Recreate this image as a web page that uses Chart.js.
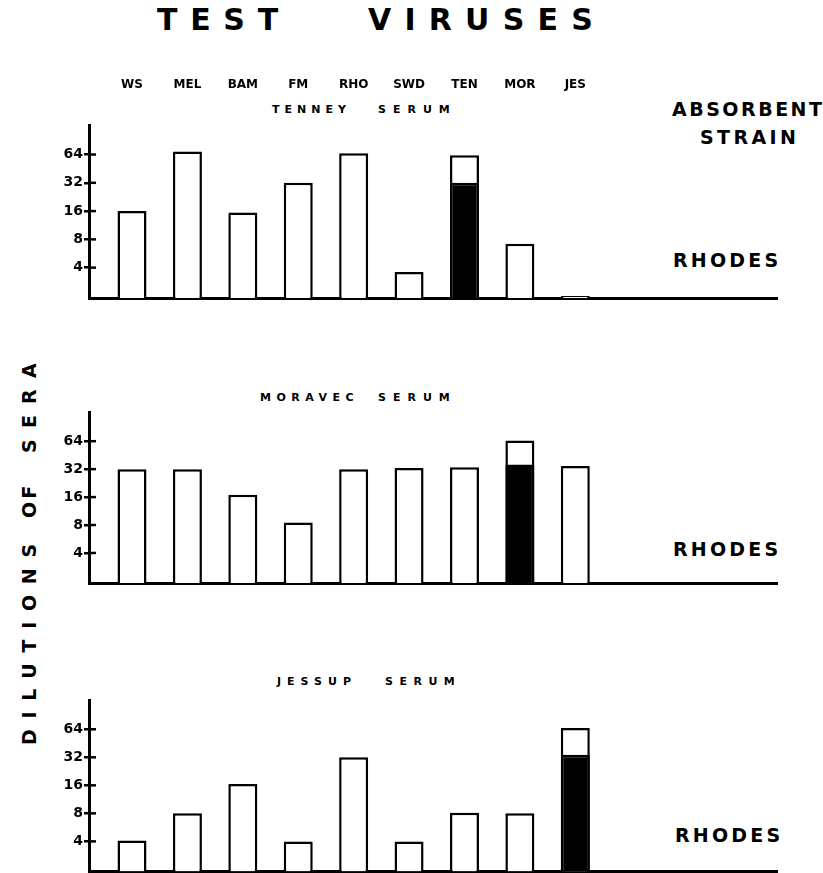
<!DOCTYPE html>
<html><head><meta charset="utf-8">
<script src="https://cdn.jsdelivr.net/npm/chart.js@4"></script>
<style>
html,body{margin:0;padding:0;background:#fff;}
#root{position:relative;width:823px;height:873px;overflow:hidden;background:#fff;font-family:'DejaVu Sans',sans-serif;font-weight:bold;color:#000;}
.t{position:absolute;white-space:pre;line-height:1;font-weight:bold;}
.panel{position:absolute;left:0;width:823px;}
.rot{transform:rotate(-90deg);transform-origin:0 0;}
</style></head><body><div id="root">
<div class="t" style="left:157px;top:4.5px;font-size:30px;letter-spacing:12.7px;">TEST</div>
<div class="t" style="left:368px;top:4.5px;font-size:30px;letter-spacing:13.2px;">VIRUSES</div>

<div class="t" style="left:672px;top:99.8px;font-size:19px;letter-spacing:2.5px;">ABSORBENT</div>
<div class="t" style="left:700px;top:127.8px;font-size:19px;letter-spacing:3.4px;">STRAIN</div>

<div class="t" style="left:272px;top:103.7px;font-size:11px;letter-spacing:5px;">TENNEY</div>
<div class="t" style="left:378px;top:103.7px;font-size:11px;letter-spacing:7px;">SERUM</div>
<div class="t" style="left:260px;top:392px;font-size:11px;letter-spacing:5.5px;">MORAVEC</div>
<div class="t" style="left:378px;top:392px;font-size:11px;letter-spacing:7px;">SERUM</div>
<div class="t" style="left:277px;top:676px;font-size:11px;letter-spacing:6px;">JESSUP</div>
<div class="t" style="left:385px;top:676px;font-size:11px;letter-spacing:6.5px;">SERUM</div>

<div class="t" style="left:673px;top:251px;font-size:19px;letter-spacing:3.2px;">RHODES</div>
<div class="t" style="left:673px;top:540px;font-size:19px;letter-spacing:3.2px;">RHODES</div>
<div class="t" style="left:675px;top:826px;font-size:19px;letter-spacing:3.2px;">RHODES</div>

<div class="t rot" style="left:20px;top:745px;font-size:19px;letter-spacing:10.7px;">DILUTIONS</div>
<div class="t rot" style="left:20px;top:518px;font-size:19px;letter-spacing:3px;">OF</div>
<div class="t rot" style="left:20px;top:453px;font-size:19px;letter-spacing:11.2px;">SERA</div>

<div class="panel" style="top:60px;height:241px;"><canvas id="c1"></canvas></div>
<div class="panel" style="top:404px;height:182px;"><canvas id="c2"></canvas></div>
<div class="panel" style="top:692px;height:181px;"><canvas id="c3"></canvas></div>
</div>
<script>
// Test viruses (categories)
const viruses = ['WS', 'MEL', 'BAM', 'FM', 'RHO', 'SWD', 'TEN', 'MOR', 'JES'];
// Y tick labels (serum dilutions)
const dilutionTicks = [4, 8, 16, 32, 64];

// Tenney serum (absorbed with Rhodes): full titre, and black (lower) part
const tenneyTiter = [16, 69, 15.5, 32, 66, 3.6, 63, 7.2, 2.0];
const tenneyBlack = [null, null, null, null, null, null, 32, null, null];

// Moravec serum
const moravecTiter = [32, 32, 17, 8.5, 32, 33, 33.5, 65, 34.5];
const moravecBlack = [null, null, null, null, null, null, null, 36, null];

// Jessup serum
const jessupTiter = [4.1, 8, 16.5, 4, 32, 4, 8.1, 8, 66];
const jessupBlack = [null, null, null, null, null, null, null, null, 34];

Chart.defaults.font.family = "'DejaVu Sans', sans-serif";
Chart.defaults.color = '#000';

const innerTicks = {
  id: 'innerTicks',
  afterDraw(chart) {
    const y = chart.scales.y, ctx = chart.ctx, left = chart.chartArea.left;
    ctx.save();
    ctx.strokeStyle = '#000';
    ctx.lineWidth = 2.5;
    for (const v of dilutionTicks) {
      const py = y.getPixelForValue(v);
      ctx.beginPath(); ctx.moveTo(left, py); ctx.lineTo(left + 7, py); ctx.stroke();
    }
    ctx.restore();
  }
};

function toPoints(arr) {
  const out = [];
  arr.forEach((v, i) => { if (v !== null) out.push({x: i, y: v}); });
  return out;
}

const X_MIN = -0.776, X_MAX = 11.64;

function makePanel(id, titers, black, withTop, padding) {
  const scales = {
    x: {
      type: 'linear', position: 'bottom', min: X_MIN, max: X_MAX, offset: false,
      grid: {display: false},
      ticks: {display: false},
      border: {display: true, color: '#000', width: 3},
      afterFit: (s) => { s.height = 0; s.paddingLeft = 0; s.paddingRight = 0; }
    },
    y: {
      type: 'logarithmic', position: 'left', min: 1.9, max: 132,
      afterBuildTicks: (s) => { s.ticks = dilutionTicks.map(v => ({value: v})); },
      ticks: {
        autoSkip: false, padding: 1,
        font: {size: 14, weight: 'bold'}, color: '#000',
        callback: (v) => String(v)
      },
      grid: {display: true, drawOnChartArea: false, drawTicks: true, tickLength: 5, color: '#000', lineWidth: 2.5},
      border: {display: true, color: '#000', width: 3},
      afterFit: (s) => { s.width = 89; s.paddingTop = 0; s.paddingBottom = 0; }
    }
  };
  if (withTop) {
    scales.xTop = {
      type: 'linear', position: 'top', min: X_MIN, max: X_MAX, offset: false,
      grid: {display: false},
      border: {display: false},
      afterBuildTicks: (s) => { s.ticks = viruses.map((_, i) => ({value: i})); },
      ticks: {
        autoSkip: false, maxRotation: 0, padding: 25,
        font: {size: 12, weight: 'bold'}, color: '#000',
        callback: (v) => viruses[v] ?? ''
      },
      afterFit: (s) => { s.height = 65; s.paddingLeft = 0; s.paddingRight = 0; }
    };
  }
  return new Chart(document.getElementById(id), {
    type: 'bar',
    data: {
      datasets: [
        {
          label: 'Absorbent strain',
          data: toPoints(black),
          backgroundColor: '#000', borderColor: '#000', borderWidth: 2.5,
          grouped: false, maxBarThickness: 29
        },
        {
          label: 'Titre',
          data: toPoints(titers),
          backgroundColor: '#fff', borderColor: '#000', borderWidth: 2.5,
          grouped: false, maxBarThickness: 29
        }
      ]
    },
    options: {
      responsive: true, maintainAspectRatio: false, animation: false,
      layout: {padding: padding},
      plugins: {legend: {display: false}, tooltip: {enabled: false}, title: {display: false}},
      scales: scales
    },
    plugins: [innerTicks]
  });
}

makePanel('c1', tenneyTiter, tenneyBlack, true, {top: 0, bottom: 3, left: 0, right: 46});
makePanel('c2', moravecTiter, moravecBlack, false, {top: 8, bottom: 3, left: 0, right: 46});
makePanel('c3', jessupTiter, jessupBlack, false, {top: 8, bottom: 1.5, left: 0, right: 46});
</script>
</body></html>
